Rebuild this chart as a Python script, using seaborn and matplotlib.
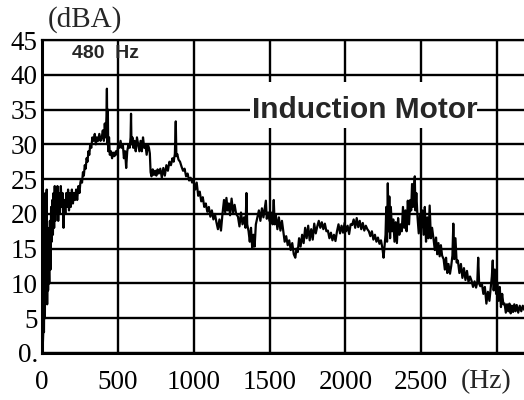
import matplotlib
matplotlib.use("Agg")
import matplotlib.pyplot as plt
import seaborn as sns
import pandas as pd
from matplotlib.patches import Rectangle

freq_hz = [
    5, 10, 13, 16, 19, 22, 25, 28, 31, 34, 37, 40, 44, 48, 52, 56, 60, 64, 68, 72, 76, 80, 84, 88,
    92, 97, 102, 107, 112, 118, 124, 130, 136, 142, 148, 154, 160, 166, 172, 178, 184, 190, 197, 204,
    211, 218, 225, 232, 240, 247, 253,
    258, 264, 270, 276, 282, 288, 294, 300, 306, 312, 318, 325,
    332, 340, 348, 355, 362, 370, 378, 386, 394, 401, 408, 414, 420, 425, 428, 431, 434, 437, 442,
    447, 455, 462, 470, 478, 487, 495,
    503, 510, 518, 525, 533, 540, 548, 555, 562, 570, 578, 584, 587, 590, 596, 602, 610, 618, 626,
    634, 642, 650, 658, 666, 674, 682, 690, 698, 705, 711,
    716, 722, 730, 738, 746, 754, 762, 770,
    780, 790, 800, 810, 820, 830, 840, 850, 860, 868, 876, 882, 886, 892, 900, 910, 920, 930, 940,
    950, 960, 970, 980, 990,
    1000, 1010, 1020, 1030, 1040, 1050, 1060, 1070,
    1080, 1090, 1100, 1110, 1120, 1130, 1140,
    1150, 1160, 1170, 1180,
    1190, 1200, 1208, 1216, 1224, 1232, 1240, 1250, 1260, 1270, 1280,
    1292, 1302, 1312, 1322, 1332, 1342, 1348, 1353,
    1362, 1370, 1378, 1386, 1394, 1402, 1410,
    1420, 1430, 1440, 1450, 1460, 1470, 1476, 1482, 1492, 1500,
    1510, 1520, 1528, 1534, 1542, 1552, 1562, 1572, 1582,
    1592, 1600, 1610, 1620, 1630, 1640, 1650, 1660, 1670, 1678, 1686,
    1695, 1705, 1715, 1725,
    1735, 1745, 1755, 1765, 1775, 1785, 1795, 1805, 1815,
    1825, 1835, 1845, 1855, 1865, 1875,
    1885, 1895, 1905, 1915, 1925, 1935, 1945,
    1955, 1965, 1975, 1985, 1995, 2005, 2015, 2025, 2035,
    2045, 2055, 2065, 2075, 2085, 2095, 2105, 2115, 2125, 2135, 2145,
    2155, 2165, 2175, 2185, 2195, 2205, 2215, 2225, 2235,
    2245, 2252, 2258,
    2265, 2270, 2275, 2280, 2285, 2290, 2295, 2300,
    2308, 2316, 2324, 2332, 2340, 2348, 2356, 2364,
    2372, 2380, 2388, 2396, 2404, 2412, 2420,
    2428, 2434, 2440, 2446, 2452, 2458, 2462, 2468,
    2476, 2484, 2492, 2500,
    2508, 2516, 2524, 2532, 2540, 2548, 2556, 2564, 2572,
    2582, 2590, 2598, 2606, 2614, 2622, 2630, 2638,
    2648, 2656, 2664, 2672, 2680, 2690, 2698,
    2706, 2712, 2718, 2726, 2734,
    2742, 2752, 2762, 2772, 2782, 2792, 2802, 2812, 2822,
    2832, 2842, 2852, 2862, 2870, 2876, 2882, 2890,
    2900, 2910, 2920, 2930, 2940, 2950, 2958,
    2966, 2972, 2978, 2986, 2994,
    3002, 3010, 3018, 3026, 3034, 3042,
    3050, 3058, 3066, 3074, 3082, 3090, 3098, 3106, 3114, 3122, 3130, 3140, 3150, 3160, 3170, 3180,
]

level_dba = [
    1, 4, 3, 14, 5, 23, 8, 12, 23.5, 7, 18, 9, 15, 10, 19, 12, 21, 16, 22, 17, 23, 18, 24, 19,
    23, 20, 24, 19, 23, 20, 24, 21, 23, 18, 22, 20, 23, 21, 23.5, 20.5, 23, 21, 23.5, 21.5,
    23, 22, 23.5, 22, 24, 23, 24.5,
    25, 24.5, 26, 25.5, 27, 26.5, 28, 27.5, 29, 28.5, 30, 29.5,
    31, 30.5, 31.5, 30, 31, 30.5, 31.5, 30.5, 31, 32, 30.5, 33, 31, 34, 38, 30, 35, 29, 31,
    28.5, 29, 28, 28.8, 28.3, 29, 28.5,
    30, 29.5, 30.5, 29.5, 30, 28, 29, 26.6, 29, 30, 29.5, 31, 34.4, 30, 31, 29.5, 30.5, 29, 31,
    30, 29, 30.5, 29, 31, 29.5, 30, 28.5, 30, 29.5, 28.7,
    26, 25.4, 26.4, 25.6, 26.2, 25.5, 26.4, 25.8,
    26.5, 25.2, 26.6, 25.5, 27, 26.2, 27.5, 27, 28, 27.5, 28.6, 33.3, 28.3, 28.6, 27.8, 27.5, 26.8, 26.2, 26.5,
    25.4, 25.8, 24.8, 25.2, 24.5,
    24.8, 23.5, 24.5, 22.6, 23.2, 21.8, 22.4, 21,
    21.5, 20.3, 21, 19.6, 20.5, 19.2, 20,
    18.8, 17.8, 19.2, 17.6,
    20, 22, 20.2, 22.3, 20.5, 21.5, 19.8, 22.2, 20.2, 21.3, 20,
    19.6, 18.2, 20.2, 18.5, 19.5, 18, 23, 18.5,
    17.5, 16, 18, 15.1, 17, 15.3, 18.5,
    19.5, 20.5, 19, 20.8, 19.5, 21, 21.9, 19.3, 20.2, 19,
    20.2, 18.5, 22, 18.5, 19.8, 17.8, 19.5, 17.6, 19,
    17.3, 16, 16.8, 15.5, 16.2, 14.8, 15.8, 14.2, 13.7, 15, 14.5,
    16.5, 15.3, 17, 15.8,
    18, 16.5, 18.3, 16.2, 17.8, 16.3, 18.6, 17.2, 18.2,
    19, 18, 18.8, 17.8, 18.6, 17.5,
    17.6, 16.5, 17.3, 16.2, 17, 16.1, 17.5,
    18.5, 17.2, 18.3, 17.3, 18.7, 17.5, 18.3, 17.1, 18.5,
    18.4, 19.2, 18, 19.4, 18.1, 19, 17.8, 18.7, 17.6, 18.3, 17.8,
    17.5, 16.8, 17.5, 16.3, 17, 16, 16.6, 15.7, 16.2,
    15, 13.7, 15.2,
    17, 21, 16, 24.4, 17.5, 22.5, 16.5, 21,
    17.5, 19.2, 16, 18.8, 15.8, 19.4, 17, 18.5,
    17.5, 21, 18, 20.5, 17.5, 21.9, 18.5,
    22, 20.5, 24.3, 21, 23.5, 25.4, 20.5, 23,
    19.5, 17.2, 19.8, 18,
    20.5, 17, 21, 16, 19.5, 16.5, 21.2, 16.5, 18,
    16.3, 14.8, 16.6, 14.2, 15.8, 13.9, 15.5, 14,
    13.5, 12, 13.7, 11.5, 12.8, 11.4, 12.5,
    14, 18.6, 13.5, 16.5, 13,
    13.3, 11.5, 12.8, 10.8, 12.2, 10.5, 11.8, 10.2, 11,
    10.4, 9.5, 10.3, 9.4, 10.2, 13.7, 10, 9.6,
    10, 8.5, 9.5, 7.1, 8.8, 7.5, 9.2,
    11, 13.3, 9, 12, 8.5,
    10, 7.5, 9.5, 6.6, 8.5, 7,
    7.1, 5.8, 7, 6, 7.1, 5.7, 6.8, 5.9, 7, 6, 6.9, 5.8, 6.8, 6, 6.8, 6.2,
]

x_ticks = [0, 500, 1000, 1500, 2000, 2500, 3000]
x_tick_labels = ["0", "500", "1000", "1500", "2000", "2500", ""]
y_ticks = [0, 5, 10, 15, 20, 25, 30, 35, 40, 45]
y_tick_labels = ["0.", "5", "10", "15", "20", "25", "30", "35", "40", "45"]

sns.set_style("white")
plt.rcParams['font.family'] = ['Liberation Serif', 'DejaVu Serif']

fig = plt.figure(figsize=(5.24, 4.0), dpi=100)
ax = fig.add_axes([42 / 524, 47 / 400, (524 - 42) / 524, (353 - 40) / 400])

df = pd.DataFrame({"freq": freq_hz, "level": level_dba})
sns.lineplot(data=df, x="freq", y="level", color="black", linewidth=1.6,
             sort=False, estimator=None, ax=ax, zorder=3)

ax.set_xlim(0, 3178)
ax.set_ylim(0, 45)
ax.set_xticks(x_ticks)
ax.set_xticklabels(x_tick_labels)
ax.set_yticks(y_ticks)
ax.set_yticklabels(y_tick_labels)
ax.set_xlabel("")
ax.set_ylabel("")
ax.grid(True, color="black", linewidth=1.7, zorder=1)
ax.set_axisbelow(True)
ax.tick_params(axis="both", length=0, labelsize=19.5, colors="black")
ax.tick_params(axis="x", pad=12)
ax.tick_params(axis="y", pad=3)
for side in ["left", "bottom"]:
    ax.spines[side].set_color("black")
    ax.spines[side].set_linewidth(2.2)
ax.spines["top"].set_color("black")
ax.spines["top"].set_linewidth(1.6)
ax.spines["right"].set_visible(False)

# white band behind the label
ax.add_patch(Rectangle((1369, 32.3), 1500, 6.7, facecolor="white",
                       edgecolor="none", zorder=2))
ax.text(1385, 35, "Induction Motor", fontsize=21.5, fontweight="bold",
        family=["Liberation Sans", "DejaVu Sans"], va="center", ha="left",
        zorder=4)
ax.text(200, 43.1, "480  Hz", fontsize=14, fontweight="bold",
        family=["Liberation Sans", "DejaVu Sans"], va="center", ha="left",
        zorder=4)

fig.text(48 / 524, 1 - 20 / 400, "(dBA)", fontsize=21, va="center", ha="left")
fig.text(461 / 524, 1 - 382 / 400, "(Hz)", fontsize=20, va="center", ha="left")

fig.savefig("out.png", dpi=100)
